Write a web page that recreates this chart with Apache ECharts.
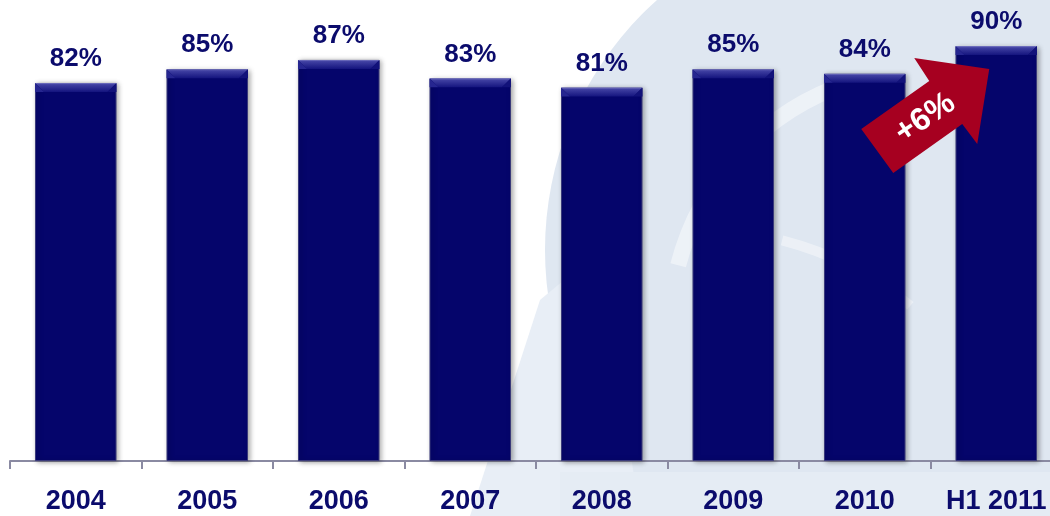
<!DOCTYPE html>
<html>
<head>
<meta charset="utf-8">
<script src="https://cdn.jsdelivr.net/npm/echarts@6/dist/echarts.min.js"></script>
<style>
  html, body { margin: 0; padding: 0; background: #ffffff; }
  #chart { width: 1050px; height: 516px; }
</style>
</head>
<body>
<div id="chart"></div>
<script>
// Share of the year, by period (%)
const categories = ['2004', '2005', '2006', '2007', '2008', '2009', '2010', 'H1 2011'];
const shareValues = [82, 85, 87, 83, 81, 85, 84, 90];

const NAVY = '#05056b';
const LABEL_NAVY = '#0b0b6c';
const BAR_RATIO = 0.62;
const FONT = '"Liberation Sans", Arial, sans-serif';

const chart = echarts.init(document.getElementById('chart'), null, { renderer: 'canvas' });

// bevelled top edge drawn over each bar
function renderBevel(params, api) {
  const top = api.coord([api.value(0), api.value(1)]);
  const w = api.size([1, 0])[0] * BAR_RATIO;
  const x0 = top[0] - w / 2, x1 = top[0] + w / 2, y0 = top[1], b = 9;
  return {
    type: 'group',
    children: [
      {
        type: 'polygon',
        shape: { points: [[x0, y0], [x1, y0], [x1 - b, y0 + b], [x0 + b, y0 + b]] },
        style: {
          fill: new echarts.graphic.LinearGradient(0, 0, 0, 1, [
            { offset: 0, color: '#7a7ac4' },
            { offset: 0.18, color: '#4040a2' },
            { offset: 1, color: '#14147e' }
          ])
        }
      },
      {
        type: 'polygon',
        shape: { points: [[x0, y0], [x0 + b, y0 + b], [x0, y0 + b]] },
        style: { fill: '#262690' }
      },
      {
        type: 'polygon',
        shape: { points: [[x1, y0], [x1 - b, y0 + b], [x1, y0 + b]] },
        style: { fill: '#12127a' }
      }
    ]
  };
}

// pale watermark behind the plot
const watermark = [
  { type: 'circle', shape: { cx: 880, cy: 250, r: 335 }, style: { fill: '#dfe7f1' }, z: -10 },
  { type: 'arc', shape: { cx: 930, cy: 330, r: 260, startAngle: Math.PI * 1.08, endAngle: Math.PI * 1.40 },
    style: { stroke: 'rgba(255,255,255,0.45)', lineWidth: 16, fill: null }, z: -9 },
  { type: 'arc', shape: { cx: 700, cy: 560, r: 330, startAngle: Math.PI * 1.58, endAngle: Math.PI * 1.72 },
    style: { stroke: 'rgba(255,255,255,0.4)', lineWidth: 10, fill: null }, z: -9 },
  { type: 'polygon', shape: { points: [[470, 516], [540, 300], [600, 250], [640, 516]] },
    style: { fill: '#e8eef6' }, z: -10 },
  { type: 'rect', shape: { x: 560, y: 472, width: 490, height: 44 }, style: { fill: '#e5ecf4' }, z: -10 }
];

chart.setOption({
  backgroundColor: '#ffffff',
  animation: false,
  grid: { left: 10, width: 1052, top: 0, bottom: 55, containLabel: false, outerBoundsMode: 'none' },
  xAxis: {
    type: 'category',
    data: categories,
    axisLine: { lineStyle: { color: '#8a8aa2', width: 2 } },
    axisTick: { show: true, interval: 0, length: 8, lineStyle: { color: '#8a8aa2', width: 2 } },
    axisLabel: {
      interval: 0,
      margin: 27,
      color: LABEL_NAVY,
      fontSize: 27,
      fontWeight: 'bold',
      fontFamily: FONT
    }
  },
  yAxis: { type: 'value', min: 0, max: 100, show: false },
  graphic: watermark,
  series: [
    {
      type: 'bar',
      data: shareValues,
      barWidth: (BAR_RATIO * 100) + '%',
      itemStyle: {
        color: NAVY,
        borderColor: '#3a3a7a',
        borderWidth: 1,
        shadowBlur: 5,
        shadowColor: 'rgba(0,0,0,0.35)',
        shadowOffsetX: 2,
        shadowOffsetY: 1
      },
      label: {
        show: true,
        position: 'top',
        distance: 11,
        formatter: '{c}%',
        color: LABEL_NAVY,
        fontSize: 26,
        fontWeight: 'bold',
        fontFamily: FONT
      },
      z: 2
    },
    {
      type: 'custom',
      data: shareValues.map((v, i) => [i, v]),
      renderItem: renderBevel,
      silent: true,
      z: 3
    }
  ]
});

// growth arrow between the last two periods, anchored to the last bar's top
const n = shareValues.length;
const growth = shareValues[n - 1] - shareValues[n - 2];
const anchor = chart.convertToPixel({ seriesIndex: 0 }, [n - 1, shareValues[n - 1]]);
const arrowShape = [[-135, 83], [-67, 35], [-82, 12], [-7, 23], [-19, 98], [-34, 78], [-103, 127]];
chart.setOption({
  graphic: watermark.concat([
    {
      type: 'polygon',
      shape: { points: arrowShape.map(p => [anchor[0] + p[0], anchor[1] + p[1]]) },
      style: { fill: '#a60020' },
      z: 20
    },
    {
      type: 'text',
      x: anchor[0] - 71,
      y: anchor[1] + 72,
      rotation: 34 * Math.PI / 180,
      style: {
        text: '+' + growth + '%',
        fill: '#ffffff',
        font: 'bold 32px ' + FONT,
        align: 'center',
        verticalAlign: 'middle'
      },
      z: 21
    }
  ])
});
</script>
</body>
</html>
